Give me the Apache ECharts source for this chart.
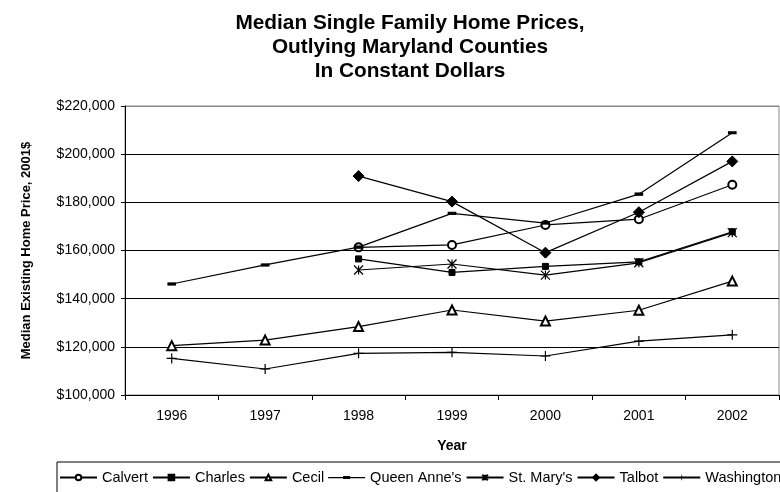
<!DOCTYPE html>
<html>
<head>
<meta charset="utf-8">
<script src="https://cdn.jsdelivr.net/npm/echarts@6/dist/echarts.min.js"></script>
<style>
  html, body { margin: 0; padding: 0; background: #fff; }
  #chart { width: 780px; height: 492px; }
</style>
</head>
<body>
<div id="chart"></div>
<script>
// values
const years = ['1996', '1997', '1998', '1999', '2000', '2001', '2002']
const calvert = [null, null, 161300, 162300, 170600, 173000, 187300]
const charles = [null, null, 156500, 150900, 153400, 155300, 167800]
const cecil = [120500, 122800, 128400, 135300, 130700, 135200, 147300]
const queenAnnes = [146100, 154000, 161400, 175400, 171400, 183400, 208900]
const stMarys = [null, null, 151900, 154400, 149800, 154900, 167400]
const talbot = [null, null, 190900, 180300, 159100, 175900, 197000]
const washington = [115200, 110800, 117300, 117700, 116200, 122400, 125000]

const FONT = 'Liberation Sans, Arial, sans-serif'

const chart = echarts.init(document.getElementById('chart'))

function makeSeries(name, data, symbol, size, extra) {
  return Object.assign({
    name,
    type: 'line',
    data,
    symbol,
    symbolSize: size,
    showAllSymbol: true,
    lineStyle: { color: '#000', width: 1.2 },
    itemStyle: { color: '#000', borderColor: '#000', borderWidth: 1 },
    emphasis: { disabled: true }
  }, extra || {})
}

// legend icon for Queen Anne's: line with a small dash; tiny corner specks keep the 37x7 box
const dashIcon = 'path://M0,0H0.01V0.01H0Z M37,7H36.99V6.99H37Z M0,2.9H15V2.1H22V2.9H37V4.3H22V5.0H15V4.3H0Z'

chart.setOption({
  animation: false,
  backgroundColor: '#fff',
  textStyle: { fontFamily: FONT },
  title: {
    text: 'Median Single Family Home Prices,\nOutlying Maryland Counties\nIn Constant Dollars',
    left: 405,
    top: 6,
    textAlign: 'center',
    textStyle: { fontFamily: FONT, fontSize: 20.8, fontWeight: 'bold', color: '#000', lineHeight: 24 }
  },
  legend: {
    left: 57,
    top: 462,
    width: 1000,
    orient: 'horizontal',
    borderColor: '#000',
    borderWidth: 1,
    padding: [8, 4, 14, 2],
    itemWidth: 37,
    itemHeight: 7,
    itemGap: 4,
    textStyle: { fontFamily: FONT, fontSize: 14.5, color: '#000' },
    data: [
      'Calvert', 'Charles', 'Cecil',
      { name: "Queen Anne's", icon: dashIcon, itemStyle: { color: '#000', borderWidth: 0 } },
      "St. Mary's", 'Talbot', 'Washington'
    ]
  },
  grid: {
    left: 125, right: 1, top: 106, bottom: 97,
    show: true, borderColor: '#888', borderWidth: 1
  },
  xAxis: {
    type: 'category',
    data: years,
    boundaryGap: true,
    name: 'Year',
    nameLocation: 'middle',
    nameGap: 44,
    nameTextStyle: { fontFamily: FONT, fontSize: 14, fontWeight: 'bold', color: '#000' },
    axisLine: { lineStyle: { color: '#000', width: 1 } },
    axisTick: { show: true, length: 5, interval: 0, lineStyle: { color: '#000' } },
    axisLabel: { fontFamily: FONT, fontSize: 14, color: '#000', margin: 14 },
    splitLine: { show: false }
  },
  yAxis: {
    type: 'value',
    min: 100000,
    max: 220000,
    interval: 20000,
    name: 'Median Existing Home Price, 2001$',
    nameLocation: 'middle',
    nameGap: 92,
    nameRotate: 90,
    nameTextStyle: { fontFamily: FONT, fontSize: 13, fontWeight: 'bold', color: '#000' },
    axisLine: { show: true, lineStyle: { color: '#000', width: 1 } },
    axisTick: { show: true, length: 4, lineStyle: { color: '#000' } },
    axisLabel: {
      fontFamily: FONT, fontSize: 14, color: '#000', margin: 10,
      formatter: v => '$' + v.toLocaleString('en-US')
    },
    splitLine: { show: true, lineStyle: { color: ['#000', '#000', '#000', '#000', '#000', '#000', '#888'], width: 1 } }
  },
  series: [
    makeSeries('Calvert', calvert, 'emptyCircle', 8),
    makeSeries('Charles', charles, 'rect', 6),
    makeSeries('Cecil', cecil, 'emptyTriangle', 9),
    makeSeries("Queen Anne's", queenAnnes, 'rect', [7, 2.5]),
    makeSeries("St. Mary's", stMarys, 'path://M0,0L10,10M10,0L0,10M5,0L5,10', 9,
      { itemStyle: { color: '#000', borderColor: '#000', borderWidth: 1.2 } }),
    makeSeries('Talbot', talbot, 'diamond', 11),
    makeSeries('Washington', washington, 'path://M4.4,0H5.6V4.4H10V5.6H5.6V10H4.4V5.6H0V4.4H4.4Z', 10,
      { itemStyle: { color: '#000', borderColor: '#000', borderWidth: 0 } })
  ]
})
</script>
</body>
</html>
